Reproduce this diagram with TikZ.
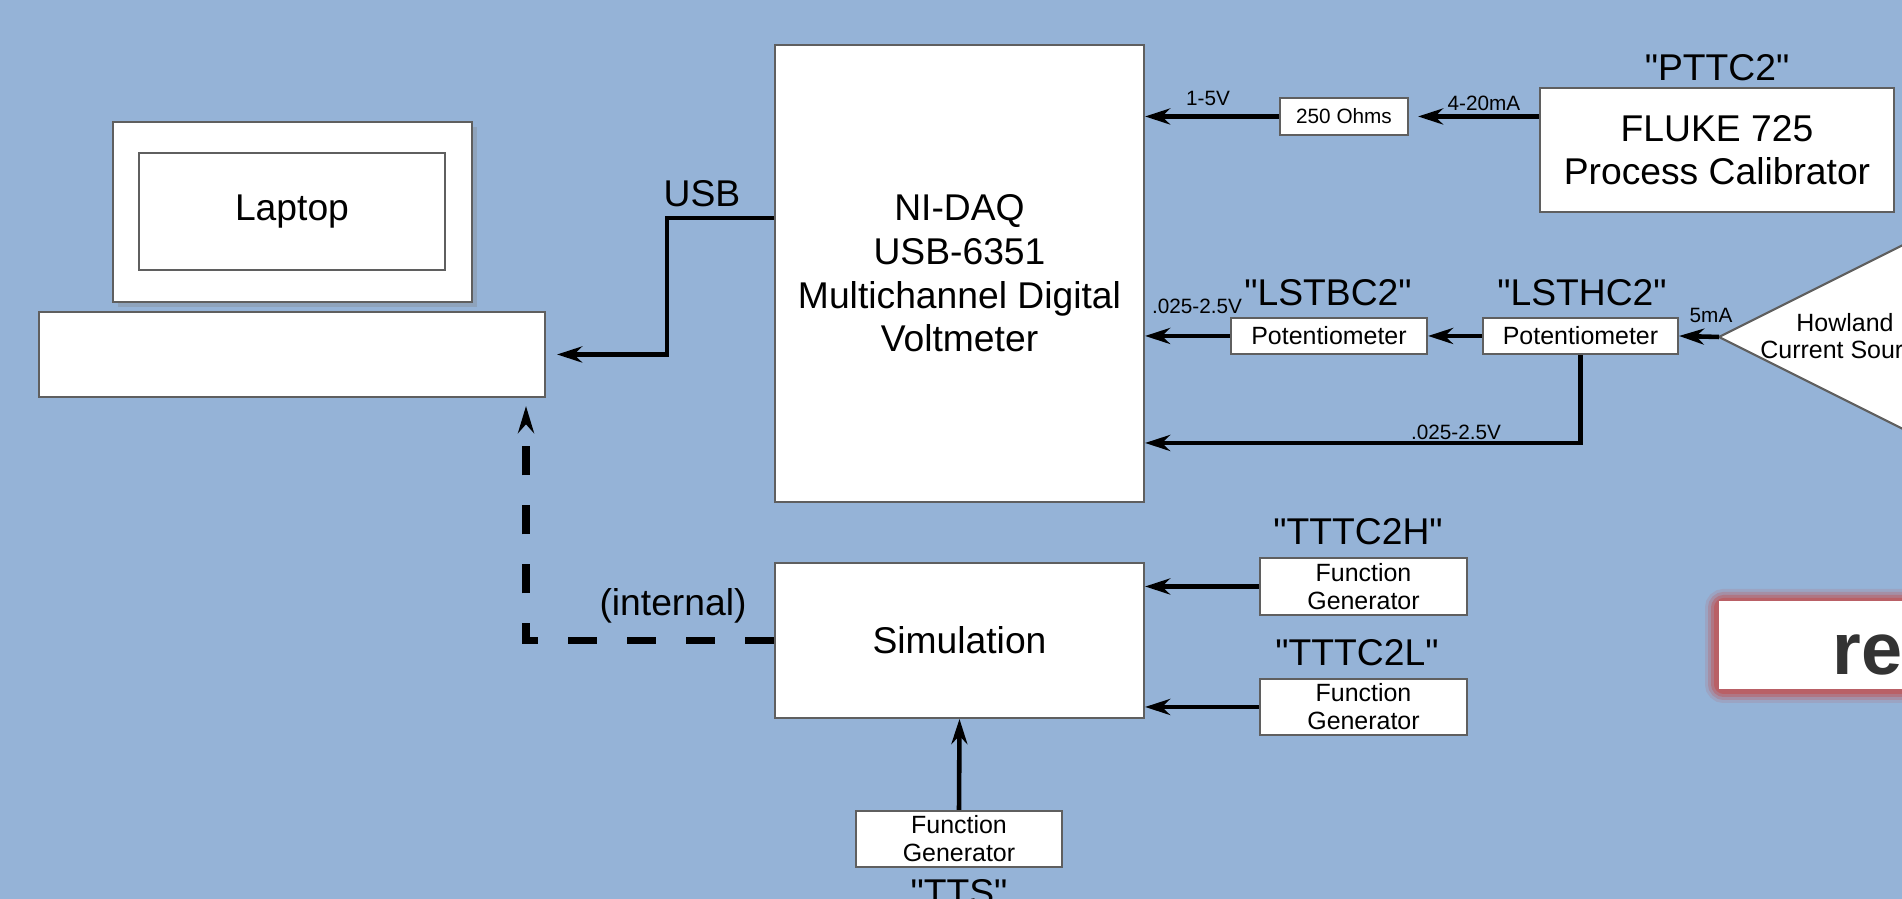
\documentclass[tikz,border=0pt]{standalone}
\usepackage{fontspec}
\setmainfont{Liberation Sans}
\newfontfamily\diagfont{Liberation Sans}
\usetikzlibrary{arrows.meta,shadows}
\definecolor{bgblue}{RGB}{149,179,215}
\definecolor{glowred}{RGB}{192,82,82}
\definecolor{boxline}{RGB}{95,95,95}
\tikzset{
	blk/.style={draw=boxline, fill=white, line width=0.6pt, inner sep=0pt, align=center, font=\diagfont\fontsize{10.6}{12.4}\selectfont},
	smallblk/.style={blk, font=\diagfont\fontsize{7.1}{8}\selectfont},
	sig/.style={line width=1.3pt, -{Stealth[length=2.5mm,width=1.6mm]}},
	dsig/.style={line width=2pt, dash pattern=on 2.9mm off 3mm, -{Stealth[length=2.7mm,width=1.6mm]}},
	tag/.style={inner sep=0pt, font=\diagfont\fontsize{10.6}{12}\selectfont},
	val/.style={inner sep=0pt, font=\diagfont\fontsize{5.9}{7}\selectfont}
}
\begin{document}
\begin{tikzpicture}[line join=miter]
	\fill[bgblue] (0,0) rectangle (19.02,8.99);
	\useasboundingbox (0,0) rectangle (19.02,8.99);
	\clip (0,0) rectangle (19.02,8.99);
	
	\node[blk, minimum width=3.59cm, minimum height=1.8cm, drop shadow={shadow xshift=0.5mm, shadow yshift=-0.5mm, opacity=0.3}] (lapframe) at (2.925,6.87) {};
	\node[blk, minimum width=3.06cm, minimum height=1.17cm] (lapscreen) at (2.92,6.875) {Laptop};
	\node[blk, minimum width=5.06cm, minimum height=0.85cm] (lapbase) at (2.92,5.445) {};
	
	\node[blk, minimum width=3.69cm, minimum height=4.57cm] (daq) at (9.595,6.255) {NI-DAQ\\USB-6351\\Multichannel Digital\\Voltmeter};
	\node[blk, minimum width=3.69cm, minimum height=1.55cm] (sim) at (9.595,2.585) {Simulation};
	\node[blk, minimum width=3.54cm, minimum height=1.24cm] (fluke) at (17.17,7.49) {FLUKE 725\\Process Calibrator};
	\node[smallblk, font=\diagfont\fontsize{5.9}{7}\selectfont, minimum width=1.28cm, minimum height=0.37cm] (r250) at (13.44,7.825) {250 Ohms};
	\node[smallblk, minimum width=1.96cm, minimum height=0.36cm] (potb) at (13.29,5.63) {Potentiometer};
	\node[smallblk, minimum width=1.95cm, minimum height=0.36cm] (poth) at (15.805,5.63) {Potentiometer};
	\node[smallblk, minimum width=2.07cm, minimum height=0.57cm] (fgh) at (13.635,3.125) {Function\\Generator};
	\node[smallblk, minimum width=2.07cm, minimum height=0.56cm] (fgl) at (13.635,1.92) {Function\\Generator};
	\node[smallblk, minimum width=2.06cm, minimum height=0.56cm] (tts) at (9.59,0.6) {Function\\Generator};
	
	\coordinate (hwtip) at (17.19,5.62);
	\draw[draw=boxline, fill=white, line width=0.6pt] (hwtip) -- ++(3.6,1.8) -- ++(0,-3.6) -- cycle;
	\node[inner sep=0pt, align=center, font=\diagfont\fontsize{7.1}{7.8}\selectfont] (hwlabel) at (18.45,5.63) {Howland\\Current Source};
	
	\node[tag] (usblbl) at (7.02,7.05) {USB};
	\node[val] (lbl15) at (12.08,8.01) {1-5V};
	\node[val] (lbl420) at (14.84,7.96) {4-20mA};
	\node[tag] (pttc) at (17.17,8.31) {"PTTC2"};
	\node[tag] (lstb) at (13.28,6.06) {"LSTBC2"};
	\node[val] (vtop) at (11.97,5.93) {.025-2.5V};
	\node[tag] (lsth) at (15.82,6.06) {"LSTHC2"};
	\node[val] (lbl5ma) at (17.11,5.84) {5mA};
	\node[val] (vlow) at (14.56,4.67) {.025-2.5V};
	\node[tag] (intern) at (6.73,2.93) {(internal)};
	\node[tag] (ttthl) at (13.58,3.67) {"TTTC2H"};
	\node[tag] (tttll) at (13.57,2.46) {"TTTC2L"};
	\node[tag] (ttslbl) at (9.59,0.06) {"TTS"};
	
	\draw[sig] ([yshift=5.55mm]daq.west) -| ([xshift=12.1mm]lapbase.east) -- ([xshift=1.1mm]lapbase.east);
	\draw[dsig] (sim.west) -| ([xshift=23.4mm,yshift=-0.8mm]lapbase.south);
	\draw[sig] (r250.west) -- (r250.west -| daq.east);
	\draw[sig] (fluke.west |- r250.east) -- ([xshift=0.9mm]r250.east);
	\draw[sig] (potb.west) -- (potb.west -| daq.east);
	\draw[sig] (poth.west) -- (potb.east);
	\draw[sig] (hwtip) -- (poth.east);
	\coordinate (retlow) at (15.805,4.56);
	\draw[sig] (poth.south) -- (retlow) -- (retlow -| daq.east);
	\draw[sig] (fgh.west) -- (fgh.west -| sim.east);
	\draw[sig] (fgl.west) -- (fgl.west -| sim.east);
	\draw[sig] (tts.north) -- (sim.south);
	
	\foreach \w/\o in {2.6/0.15, 2.0/0.25, 1.4/0.4, 0.8/0.6}
		\draw[glowred, line width=\w mm, opacity=\o, rounded corners=0.6mm] (17.18,2.09) rectangle (19.8,2.97);
	\node[fill=white, inner sep=0pt, minimum width=2.62cm, minimum height=0.88cm, anchor=south west] (rebox) at (17.18,2.09) {};
	\node[inner sep=0pt, anchor=base west, text=black!80, font=\diagfont\fontsize{21}{24}\selectfont\bfseries] (retext) at (18.32,2.24) {re};
\end{tikzpicture}
\end{document}
